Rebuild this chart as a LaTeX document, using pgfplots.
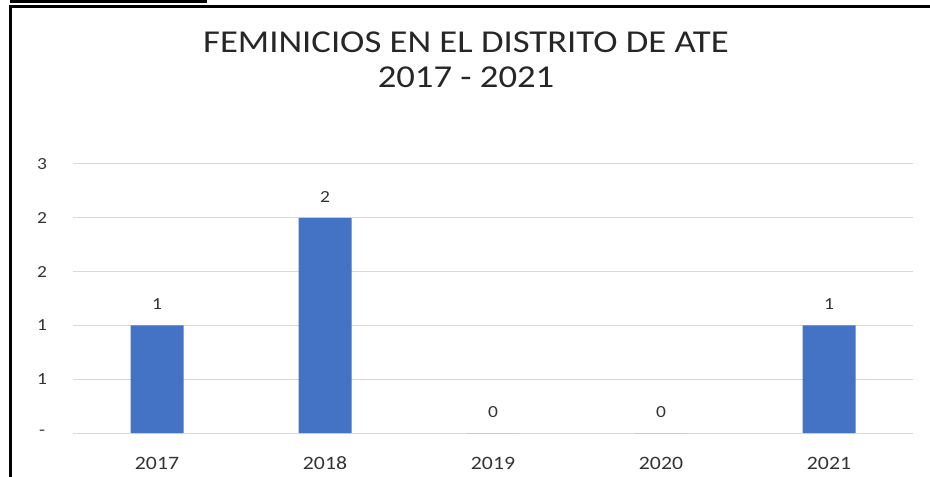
\documentclass[border=0pt]{standalone}
\usepackage{pgfplots}
\pgfplotsset{compat=1.18}
\usepackage{fontspec}
\setmainfont{Carlito}[FakeStretch=1.15]
\definecolor{barblue}{HTML}{4472C4}
\definecolor{gridgray}{HTML}{D9D9D9}
\definecolor{txtgray}{HTML}{333333}
\definecolor{titlegray}{HTML}{262626}
\begin{document}
\begin{tikzpicture}
\useasboundingbox (0,0) rectangle (930bp,477bp);
% frame
\draw[line width=3bp] (10bp,475.5bp) -- (207bp,475.5bp);
\draw[line width=3bp] (10bp,-2bp) -- (10bp,470bp) -- (932bp,470bp);
% title
\node[anchor=base,text=titlegray,font=\fontsize{32}{36}\selectfont] at (466bp,424bp) {FEMINICIOS EN EL DISTRITO DE ATE};
\node[anchor=base,text=titlegray,font=\fontsize{32}{36}\selectfont] at (466bp,389bp) {2017 - 2021};
\begin{axis}[
  at={(73bp,44bp)}, anchor=south west,
  scale only axis, width=840bp, height=269bp,
  xmin=-0.5, xmax=4.5, ymin=0, ymax=2.5,
  axis line style={draw=none},
  tick style={draw=none},
  ymajorgrids, grid style={gridgray, line width=1bp},
  xtick={0,1,2,3,4}, xticklabels={2017,2018,2019,2020,2021},
  ytick={0,0.5,1,1.5,2,2.5}, yticklabels={-,1,1,2,2,3},
  major tick length=0,
  xticklabel style={font=\fontsize{19}{20}\selectfont, text=txtgray, anchor=base, yshift=-36bp},
  yticklabel style={font=\fontsize{17}{18}\selectfont, text=txtgray, anchor=center, xshift=-31bp},
  /pgf/number format/assume math mode=true,
  clip=false,
  ybar, bar width=53bp,
  nodes near coords,
  every node near coord/.append style={font=\fontsize{17}{18}\selectfont, text=txtgray, yshift=12bp},
]
\addplot[fill=barblue, draw=none] coordinates {(0,1) (1,2) (2,0) (3,0) (4,1)};
\end{axis}
\end{tikzpicture}
\end{document}
